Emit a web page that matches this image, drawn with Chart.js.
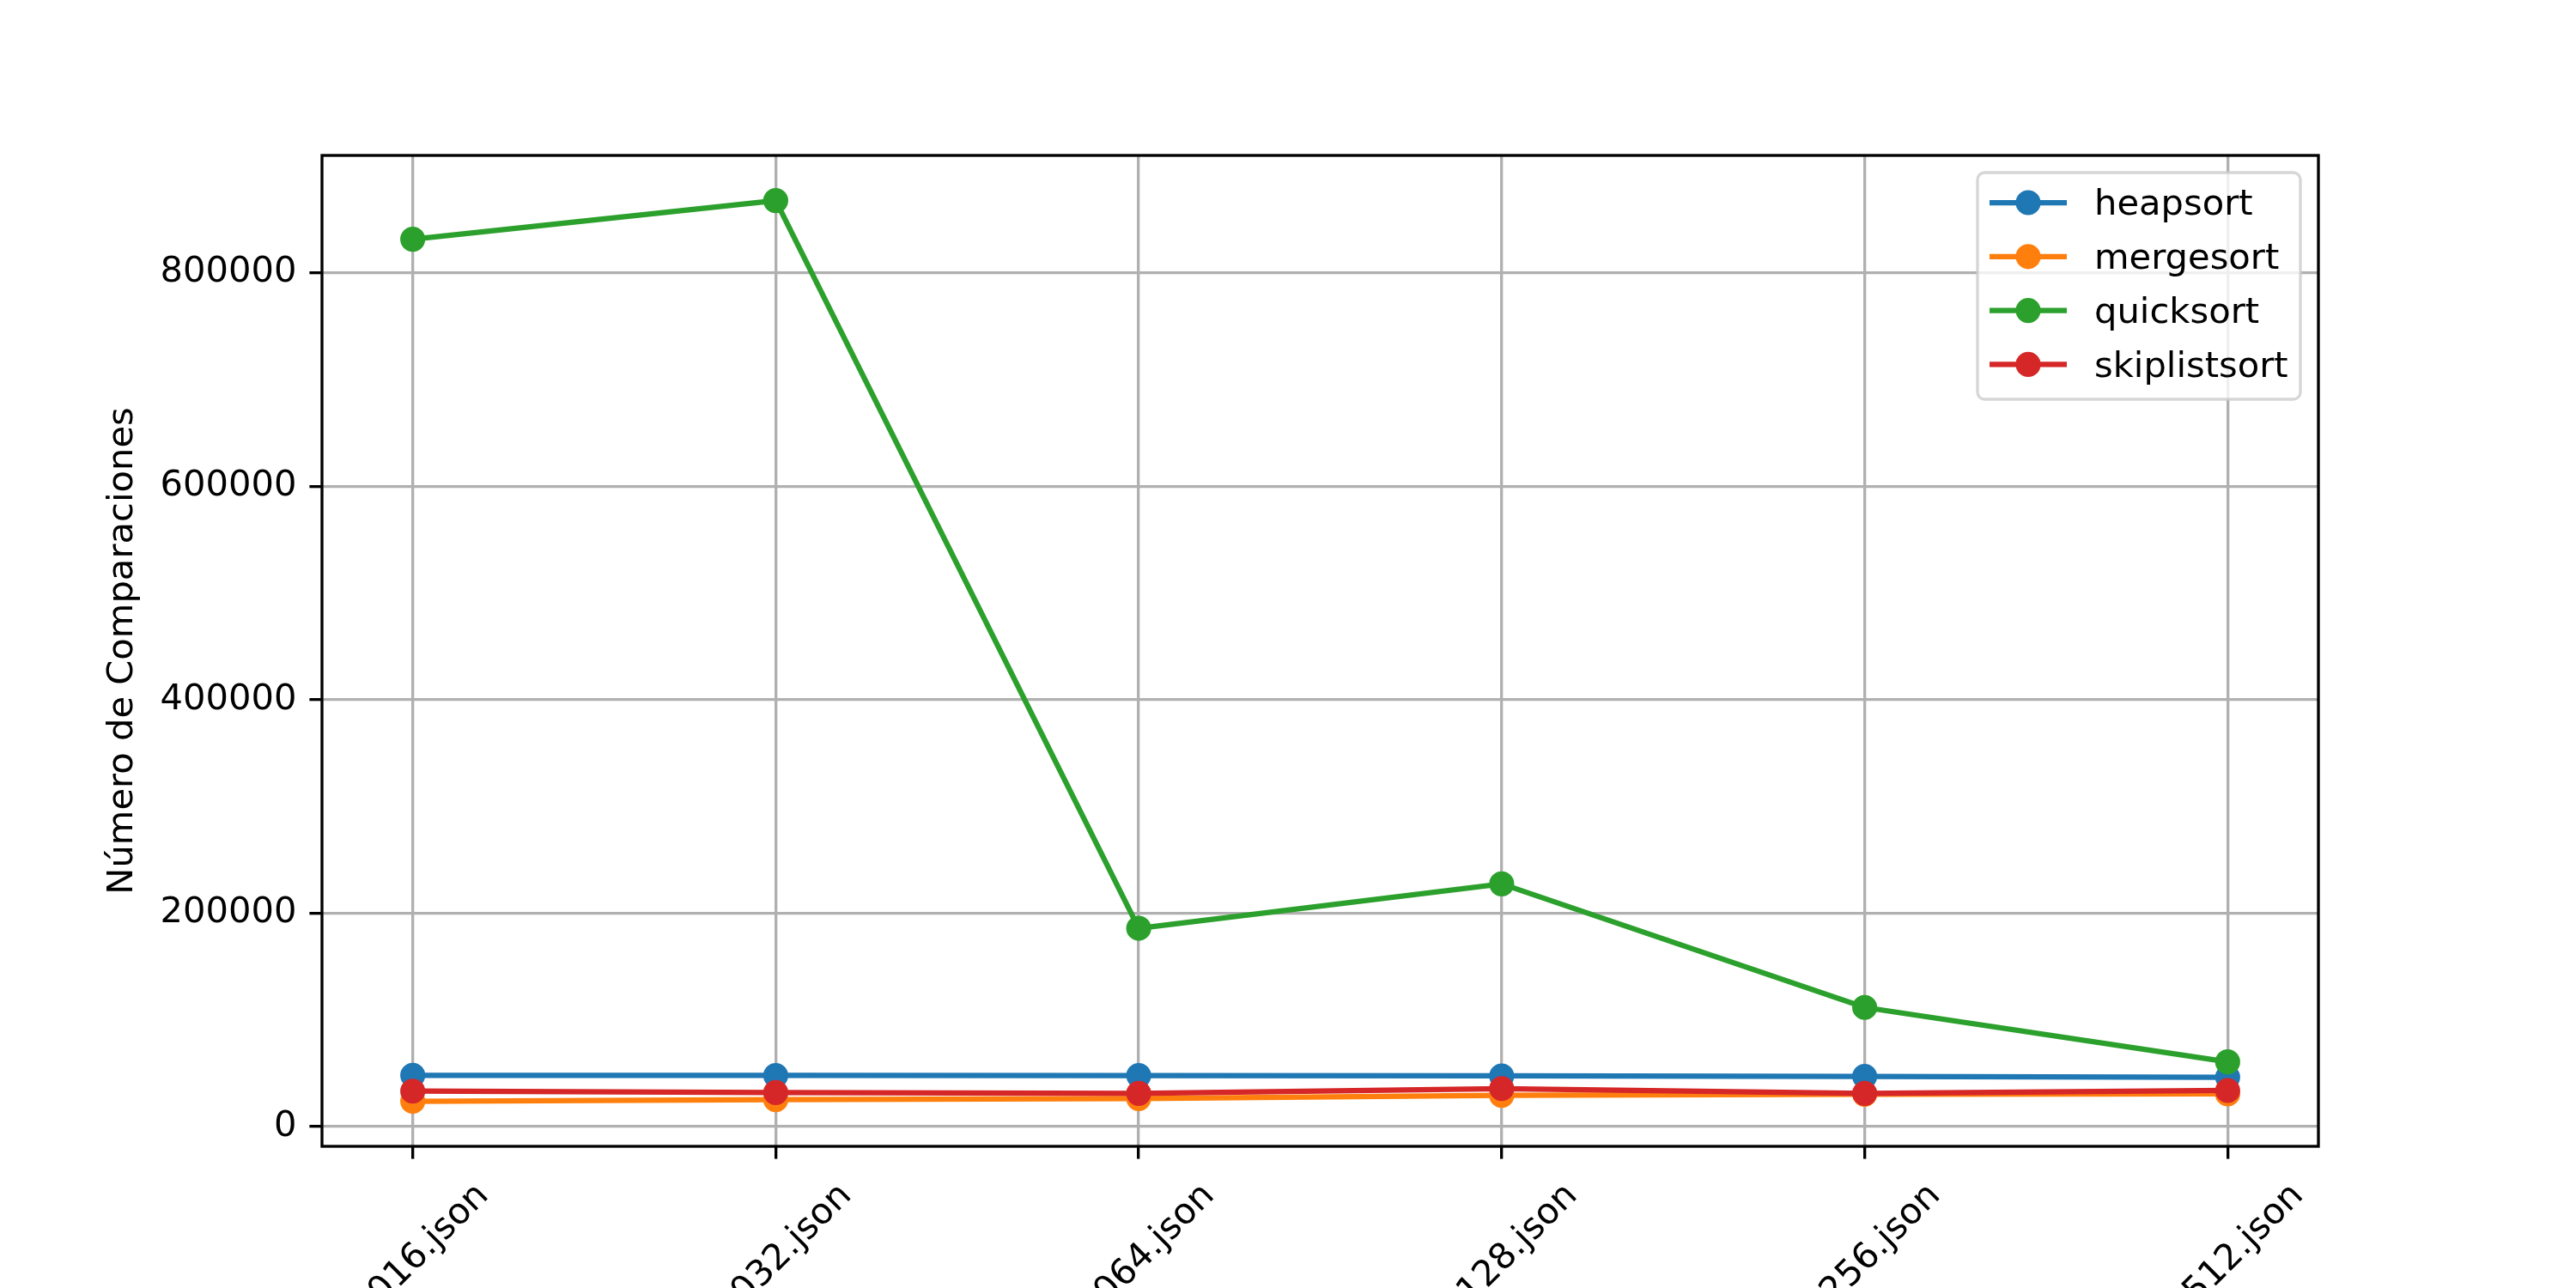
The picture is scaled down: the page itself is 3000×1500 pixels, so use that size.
<!DOCTYPE html>
<html>
<head>
<meta charset="utf-8">
<script src="https://cdn.jsdelivr.net/npm/chart.js@4.4.1/dist/chart.umd.min.js"></script>
<style>
  html, body { margin: 0; padding: 0; background: #ffffff; overflow: hidden; }
  #wrap { width: 3000px; height: 1500px; }
</style>
</head>
<body>
<div id="wrap"><canvas id="c" width="3000" height="1500"></canvas></div>
<script>
// ---- data ----
const categories = ['_016.json', '_032.json', '_064.json', '_128.json', '_256.json', '_512.json'];
const seriesNames = ['heapsort', 'mergesort', 'quicksort', 'skiplistsort'];
const heapsort = [48000, 47900, 47800, 47500, 47000, 46200];
const mergesort = [23700, 25200, 26300, 29200, 30300, 30600];
const quicksort = [831400, 867600, 185800, 227400, 111600, 60600];
const skiplistsort = [33200, 31900, 31100, 35600, 31100, 33800];
const yTickValues = [0, 200000, 400000, 600000, 800000];
const yAxisTitle = 'Número de Comparaciones';
const yMin = -18500;
const yMax = 909900;

// ---- styles ----
const colors = ['#1f77b4', '#ff7f0e', '#2ca02c', '#d62728'];
const FONT = 'DejaVu Sans';
const FS = 41.67;
const LW = 3.33;

const allSeries = [heapsort, mergesort, quicksort, skiplistsort];
const datasets = allSeries.map((vals, k) => ({
  label: seriesNames[k],
  data: vals.map((v, i) => ({ x: i, y: v })),
  borderColor: colors[k],
  backgroundColor: colors[k],
  pointBackgroundColor: colors[k],
  pointBorderColor: colors[k],
  borderWidth: 6.25,
  pointRadius: 12.5,
  pointBorderWidth: 4.17,
  tension: 0,
  fill: false,
  order: allSeries.length - 1 - k
}));

const framePlugin = {
  id: 'frame',
  afterDatasetsDraw(chart) {
    const { ctx, chartArea: a } = chart;
    ctx.save();
    ctx.strokeStyle = '#000000';
    ctx.lineWidth = LW;
    ctx.strokeRect(a.left, a.top, a.right - a.left, a.bottom - a.top);
    ctx.restore();
  }
};

const legendBox = { left: 2303, top: 201, right: 2679, bottom: 465, row0: 236, step: 62.8,
  lineX0: 2317, lineX1: 2407, textX: 2439 };
const legendPlugin = {
  id: 'mplLegend',
  afterDatasetsDraw(chart) {
    const { ctx } = chart;
    const b = legendBox;
    ctx.save();
    ctx.beginPath();
    ctx.roundRect(b.left, b.top, b.right - b.left, b.bottom - b.top, 8.3);
    ctx.fillStyle = 'rgba(255,255,255,0.8)';
    ctx.fill();
    ctx.strokeStyle = 'rgba(204,204,204,0.8)';
    ctx.lineWidth = LW;
    ctx.stroke();
    chart.data.datasets.forEach((ds, i) => {
      const y = b.row0 + i * b.step;
      ctx.strokeStyle = ds.borderColor;
      ctx.lineWidth = ds.borderWidth;
      ctx.beginPath();
      ctx.moveTo(b.lineX0, y);
      ctx.lineTo(b.lineX1, y);
      ctx.stroke();
      ctx.beginPath();
      ctx.arc((b.lineX0 + b.lineX1) / 2, y, ds.pointRadius, 0, Math.PI * 2);
      ctx.fillStyle = ds.pointBackgroundColor;
      ctx.fill();
      ctx.lineWidth = ds.pointBorderWidth;
      ctx.strokeStyle = ds.pointBorderColor;
      ctx.stroke();
      ctx.fillStyle = '#000000';
      ctx.font = FS + 'px "' + FONT + '"';
      ctx.textAlign = 'left';
      ctx.textBaseline = 'alphabetic';
      ctx.fillText(ds.label, b.textX, y + 14.3);
    });
    ctx.restore();
  }
};

new Chart(document.getElementById('c'), {
  type: 'line',
  data: { datasets },
  plugins: [framePlugin, legendPlugin],
  options: {
    responsive: false,
    animation: false,
    devicePixelRatio: 1,
    layout: { padding: { left: 0, top: 181, right: 300, bottom: 0 } },
    plugins: { legend: { display: false }, tooltip: { enabled: false } },
    scales: {
      x: {
        type: 'linear',
        min: -0.25,
        max: 5.25,
        afterBuildTicks: (s) => { s.ticks = categories.map((c, i) => ({ value: i })); },
        afterFit: (s) => { s.height = 165; },
        border: { display: false },
        grid: { color: '#b0b0b0', lineWidth: LW, tickColor: '#000000', tickWidth: LW, tickLength: 14.6 },
        ticks: {
          autoSkip: false,
          minRotation: 45,
          maxRotation: 45,
          labelOffset: 82,
          padding: 19,
          color: '#000000',
          font: { family: FONT, size: FS },
          callback: (v) => categories[v]
        }
      },
      y: {
        type: 'linear',
        min: yMin,
        max: yMax,
        afterBuildTicks: (s) => { s.ticks = yTickValues.map(v => ({ value: v })); },
        afterFit: (s) => { s.width = 375; },
        border: { display: false },
        grid: { color: '#b0b0b0', lineWidth: LW, tickColor: '#000000', tickWidth: LW, tickLength: 14.6 },
        ticks: {
          padding: 15,
          color: '#000000',
          font: { family: FONT, size: FS },
          callback: (v) => String(v)
        },
        title: {
          display: true,
          text: yAxisTitle,
          color: '#000000',
          font: { family: FONT, size: FS },
          padding: { top: 118, bottom: 0 }
        }
      }
    }
  }
});
</script>
</body>
</html>
